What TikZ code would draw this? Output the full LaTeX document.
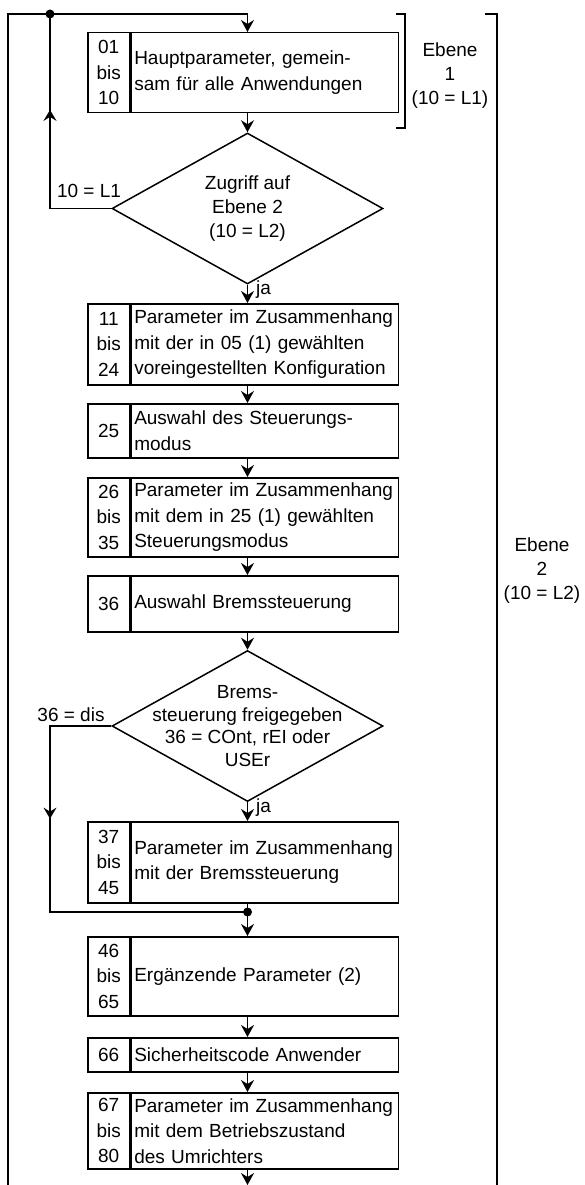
\documentclass[tikz,border=0pt]{standalone}
\usepackage{fontspec}
\setmainfont{Liberation Sans}
\usetikzlibrary{shapes.geometric,arrows.meta,decorations.markings}

\begin{document}
\begin{tikzpicture}[x=1pt,y=-1pt,line width=1.5pt,
    font=\fontsize{19}{25.5}\selectfont,
    nr/.style={draw,minimum width=42pt,inner sep=0pt,anchor=north west,align=center},
    txt/.style={draw,text width=261pt,inner xsep=3pt,inner ysep=0pt,anchor=north west,align=left},
    decision/.style={draw,diamond,minimum width=271pt,minimum height=151pt,inner sep=0pt},
    dtext/.style={align=center},
    flow/.style={-{Stealth[length=12pt,width=13pt,inset=4pt]}},
    midflow/.style={postaction={decorate},decoration={markings,
        mark=at position #1 with {\arrow{Stealth[length=11pt,width=13pt,inset=4pt]}}}},
    dot/.style={circle,fill,inner sep=0pt,minimum size=9pt}]
    \useasboundingbox (0,0) rectangle (585,1185);

    % Ebene 1
    \node[nr,minimum height=80pt] (n1) at (87,32) {01\\bis\\10};
    \node[txt,minimum height=80pt] (b1) at (n1.north east) {Hauptparameter, gemein-\\sam für alle Anwendungen};
    \node[decision,label={[dtext,font=\fontsize{19}{24}\selectfont]center:{Zugriff auf\\Ebene 2\\(10 = L2)}}] (d1) at (247.5,208.5) {};

    % Ebene 2
    \node[nr,minimum height=81pt] (n2) at (87,303) {11\\bis\\24};
    \node[txt,minimum height=81pt] (b2) at (n2.north east) {Parameter im Zusammenhang\\mit der in 05 (1) gewählten\\voreingestellten Konfiguration};
    \node[nr,minimum height=54pt] (n3) at (87,403) {25};
    \node[txt,minimum height=54pt] (b3) at (n3.north east) {Auswahl des Steuerungs-\\modus};
    \node[nr,minimum height=79pt] (n4) at (87,477) {26\\bis\\35};
    \node[txt,minimum height=79pt] (b4) at (n4.north east) {Parameter im Zusammenhang\\mit dem in 25 (1) gewählten\\Steuerungsmodus};
    \node[nr,minimum height=56pt] (n5) at (87,575) {36};
    \node[txt,minimum height=56pt] (b5) at (n5.north east) {Auswahl Bremssteuerung};
    \node[decision,label={[dtext,font=\fontsize{19}{22.5}\selectfont]center:{Brems-\\steuerung freigegeben\\36 = COnt, rEI oder\\USEr}}] (d2) at (247.5,726) {};
    \node[nr,minimum height=81pt] (n6) at (87,821) {37\\bis\\45};
    \node[txt,minimum height=81pt] (b6) at (n6.north east) {Parameter im Zusammenhang\\mit der Bremssteuerung};
    \node[nr,minimum height=79pt] (n7) at (87,936) {46\\bis\\65};
    \node[txt,minimum height=79pt] (b7) at (n7.north east) {Ergänzende Parameter (2)};
    \node[nr,minimum height=34pt] (n8) at (87,1037) {66};
    \node[txt,minimum height=34pt] (b8) at (n8.north east) {Sicherheitscode Anwender};
    \node[nr,minimum height=76pt] (n9) at (87,1092) {67\\bis\\80};
    \node[txt,minimum height=76pt] (b9) at (n9.north east) {Parameter im Zusammenhang\\mit dem Betriebszustand\\des Umrichters};

    % Ruecksprung
    \coordinate (top) at (247.5,14);
    \coordinate (j1) at (50,14);
    \coordinate (lft) at (8,1185);
    \coordinate (dis) at (50,912);
    \coordinate (j2) at (247.5,912);
    \coordinate (bot) at (247.5,1185);

    \draw[flow] (lft) |- (top) -- (top |- b1.north);
    \draw[midflow=0.625] (d1.west) -| (j1);
    \node[dot] (p1) at (j1) {};
    \node (l1) at (89,191) {10 = L1};
    \draw[flow] (b1.south -| top) -- (d1.north);
    \draw[flow] (d1.south) -- (b2.north -| d1);
    \node[right] (ja1) at (252,290) {ja};
    \foreach \a/\b in {b2/b3,b3/b4,b4/b5}
        \draw[flow] (\a.south -| d1) -- (\b.north -| d1);
    \draw[flow] (b5.south -| d1) -- (d2.north);
    \draw[flow] (d2.south) -- (b6.north -| d2);
    \node[right] (ja2) at (252,808) {ja};
    \draw[midflow=0.346] (d2.west) -| (dis) -- (j2);
    \node (l2) at (71,715) {36 = dis};
    \draw (b6.south -| d2) -- (j2);
    \node[dot] (p2) at (j2) {};
    \draw[flow] (j2) -- (b7.north -| d2);
    \foreach \a/\b in {b7/b8,b8/b9}
        \draw[flow] (\a.south -| d2) -- (\b.north -| d2);
    \draw[flow] (b9.south -| d2) -- (bot);

    % Klammern
    \draw (396,14) -- (405,14) -- (405,128) -- (396,128);
    \draw (485,14) -- (497,14) -- (497,1185);
    \node[dtext,font=\fontsize{19}{24}\selectfont] (e1) at (450,76) {Ebene\\1\\(10 = L1)};
    \node[dtext,font=\fontsize{19}{24}\selectfont] (e2) at (542,571) {Ebene\\2\\(10 = L2)};
\end{tikzpicture}
\end{document}
